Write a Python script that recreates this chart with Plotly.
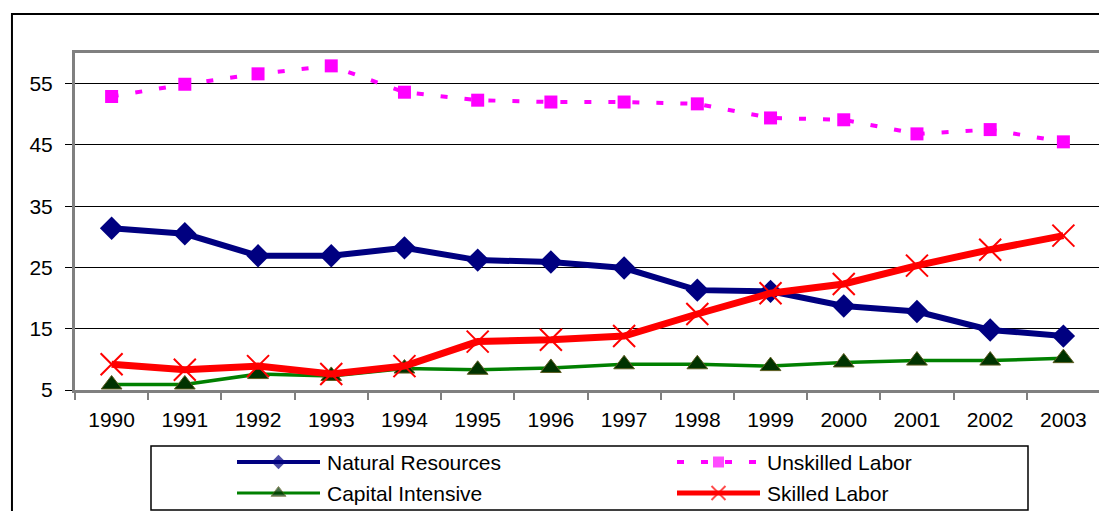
import plotly.graph_objects as go

# 出口結構（%），依年份
years = [str(y) for y in range(1990, 2004)]
natural_resources = [31.4, 30.5, 26.9, 26.9, 28.2, 26.2, 25.9, 24.9, 21.3, 21.1, 18.7, 17.8, 14.8, 13.8]
unskilled_labor = [52.9, 54.9, 56.6, 57.9, 53.6, 52.3, 52.0, 52.0, 51.7, 49.4, 49.1, 46.8, 47.5, 45.5]
capital_intensive = [5.9, 5.9, 7.6, 7.3, 8.5, 8.3, 8.6, 9.2, 9.2, 8.9, 9.5, 9.8, 9.8, 10.2]
skilled_labor = [9.2, 8.3, 8.9, 7.6, 8.9, 12.9, 13.2, 13.8, 17.4, 20.8, 22.3, 25.3, 27.9, 30.2]
y_ticks = [5, 15, 25, 35, 45, 55]

FONT = "Liberation Sans, Arial, sans-serif"
GRAY = "#808080"

series = [
    dict(name="Natural Resources", y=natural_resources, color="#000080", width=6, dash="solid",
         symbol="diamond", size=18, mcolor="#000080", mline="#000080", mlw=0),
    dict(name="Unskilled Labor", y=unskilled_labor, color="#FF00FF", width=4, dash="7px,17px",
         symbol="square", size=13, mcolor="#FF00FF", mline="#FF00FF", mlw=0),
    dict(name="Capital Intensive", y=capital_intensive, color="#008000", width=3.5, dash="solid",
         symbol="triangle-up", size=18, mcolor="#003300", mline="#5c5c1f", mlw=1),
    dict(name="Skilled Labor", y=skilled_labor, color="#FF0000", width=7, dash="solid",
         symbol="x-thin", size=22, mcolor="#FF0000", mline="#FF0000", mlw=2),
]

fig = go.Figure()
for s in series:
    fig.add_trace(go.Scatter(
        x=years, y=s["y"], mode="lines+markers", name=s["name"], cliponaxis=False,
        line=dict(color=s["color"], width=s["width"], dash=s["dash"]),
        marker=dict(symbol=s["symbol"], size=s["size"], color=s["mcolor"],
                    line=dict(color=s["mline"], width=s["mlw"])),
        xaxis="x", yaxis="y", showlegend=False,
    ))

# 手繪圖例（兩欄兩列），放在第二組座標軸上
legend_cols = [237, 677]
legend_rows = [48, 17]
legend_slots = [(0, 0), (1, 0), (0, 1), (1, 1)]
legend_sizes = [11, 11, 13, 14]
legend_widths = [4, 4, 3, 5]
for s, (c, r), ms, lw in zip(series, legend_slots, legend_sizes, legend_widths):
    x0 = legend_cols[c]
    fig.add_trace(go.Scatter(
        x=[x0, x0 + 41.5, x0 + 83], y=[legend_rows[r]] * 3, mode="lines+markers",
        line=dict(color=s["color"], width=lw, dash=s["dash"]),
        marker=dict(symbol=s["symbol"], size=[0, ms, 0], color=s["mcolor"],
                    line=dict(color=s["mline"], width=s["mlw"])),
        xaxis="x2", yaxis="y2", showlegend=False, hoverinfo="skip",
    ))
    fig.add_annotation(x=x0 + 88, y=legend_rows[r], xref="x2", yref="y2", text=s["name"],
                       showarrow=False, xanchor="left", yanchor="middle",
                       font=dict(family=FONT, size=21, color="black"))

# 頁面 body 有 8px 邊距，所以圖本身縮小 8px
fig.update_layout(
    width=1099, height=503,
    margin=dict(l=67, r=7, t=45, b=0, autoexpand=False),
    paper_bgcolor="white", plot_bgcolor="white",
    font=dict(family=FONT, size=21, color="black"),
    xaxis=dict(type="category", range=[-0.5, 13.5], domain=[0, 1], anchor="y", automargin=False,
               showline=True, linecolor=GRAY, linewidth=3, mirror=True,
               ticks="outside", tickson="boundaries", ticklen=7, tickwidth=2, tickcolor=GRAY,
               ticklabelstandoff=9, showgrid=False, zeroline=False,
               tickfont=dict(family=FONT, size=21, color="black")),
    yaxis=dict(range=[5, 60], domain=[0.26419, 1], anchor="x", tickvals=y_ticks, automargin=False,
               showline=True, linecolor=GRAY, linewidth=3, mirror=True,
               ticks="outside", ticklen=7, tickwidth=1, tickcolor="black",
               ticklabelstandoff=8, showgrid=True, gridcolor="black", gridwidth=1,
               zeroline=False, tickfont=dict(family=FONT, size=21, color="black")),
    xaxis2=dict(domain=[0.074146, 0.929756], range=[151, 1028], anchor="y2", automargin=False,
                visible=False, fixedrange=True),
    yaxis2=dict(domain=[0.00218, 0.14192], range=[0, 64], anchor="x2", automargin=False,
                visible=False, fixedrange=True),
    shapes=[
        dict(type="rect", xref="paper", yref="paper", x0=-0.0615, x1=1.012, y0=-0.02, y1=1.0852,
             line=dict(color="black", width=2), fillcolor="rgba(0,0,0,0)", layer="below"),
        dict(type="rect", xref="paper", yref="paper", x0=0.074146, x1=0.929756, y0=0.00218, y1=0.14192,
             line=dict(color="black", width=1.5), fillcolor="rgba(0,0,0,0)"),
    ],
)

fig.write_html("out.html")
